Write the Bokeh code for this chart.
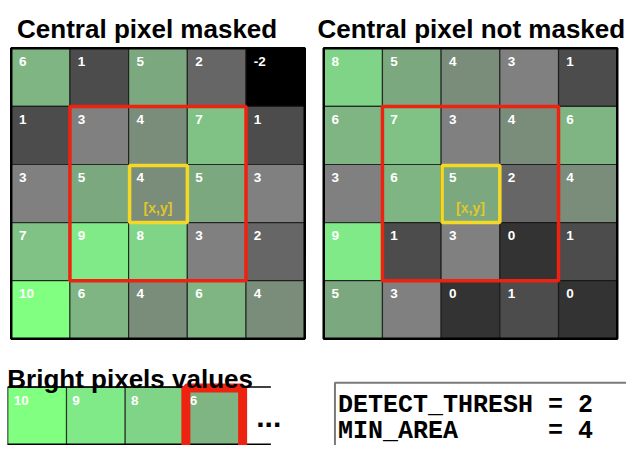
from bokeh.plotting import figure
from bokeh.models import Range1d
from bokeh.core.properties import value
from bokeh.embed import file_html
from bokeh.resources import INLINE

# ---------------- data ----------------
titles = ["Central pixel masked", "Central pixel not masked"]
masked_values = [[6, 1, 5, 2, -2],
                 [1, 3, 4, 7, 1],
                 [3, 5, 4, 5, 3],
                 [7, 9, 8, 3, 2],
                 [10, 6, 4, 6, 4]]
not_masked_values = [[8, 5, 4, 3, 1],
                     [6, 7, 3, 4, 6],
                     [3, 6, 5, 2, 4],
                     [9, 1, 3, 0, 1],
                     [5, 3, 0, 1, 0]]
center_row, center_col = 2, 2
center_label = "[x,y]"
bright_title = "Bright pixels values"
bright_values = [10, 9, 8, 6]
selected_index = 3
param_names = ["DETECT_THRESH", "MIN_AREA"]
param_values = [2, 4]

# ---------------- styles ----------------
palette = {10: "#80ff80", 9: "#80ea88", 8: "#80d488", 7: "#80c286",
           6: "#7eb582", 5: "#7ba87e", 4: "#7a8c7a", 3: "#808080",
           2: "#666666", 1: "#4c4c4c", 0: "#333333", -2: "#000000"}
RED = "#ee2211"
YELLOW = "#f5d826"
YELLOW_TXT = "#e2c62c"
SANS = value("Liberation Sans")
MONO = value("Liberation Mono")

# The drawing space is the reference's 642 x 461 pixel canvas, fitted into the page.
REF_W, REF_H = 642, 461
W, H = 626, 445
p = figure(width=W, height=H, output_backend="svg", toolbar_location=None,
           x_range=Range1d(0, REF_W), y_range=Range1d(REF_H, 0),
           x_axis_type=None, y_axis_type=None, min_border=0,
           background_fill_color="white", border_fill_color="white")
p.outline_line_color = None
p.grid.visible = False

CELL = 60.2


def draw_grid(values, left, top, title, title_x):
    n = len(values)
    L, R, T, B, C, tx, ty, tt = [], [], [], [], [], [], [], []
    for r, row in enumerate(values):
        for c, v in enumerate(row):
            l = left + c * CELL
            t = top + r * CELL
            L.append(l); R.append(l + CELL); T.append(t); B.append(t + CELL)
            C.append(palette[v])
            tx.append(l + 8); ty.append(t + 9); tt.append(str(v))
    p.quad(left=L, right=R, top=T, bottom=B, fill_color=C,
           line_color="#111111", line_width=1.2, line_alpha=0.75)
    p.text(x=tx, y=ty, text=tt, text_color="white", text_font=SANS,
           text_font_style="bold", text_font_size="13.5px",
           text_baseline="top", text_align="left")
    # outer border
    p.quad(left=[left], right=[left + n * CELL], top=[top], bottom=[top + n * CELL],
           fill_color=None, line_color="black", line_width=2.5)
    # neighbourhood (3x3 around centre)
    p.quad(left=[left + (center_col - 1) * CELL], right=[left + (center_col + 2) * CELL],
           top=[top + (center_row - 1) * CELL], bottom=[top + (center_row + 2) * CELL],
           fill_color=None, line_color=RED, line_width=3.5)
    # centre pixel
    cl = left + center_col * CELL
    ct = top + center_row * CELL
    p.quad(left=[cl + 1], right=[cl + CELL], top=[ct + 1], bottom=[ct + CELL],
           fill_color=None, line_color=YELLOW, line_width=3.5)
    p.text(x=[cl + CELL / 2], y=[ct + 45], text=[center_label], text_color=YELLOW_TXT,
           text_font=SANS, text_font_style="bold", text_font_size="14px",
           text_baseline="alphabetic", text_align="center")
    p.text(x=[title_x], y=[30], text=[title], text_color="black", text_font=SANS,
           text_font_style="bold", text_font_size="26px",
           text_baseline="alphabetic", text_align="left")


draw_grid(masked_values, 11, 49.5, titles[0], 17)
draw_grid(not_masked_values, 331.5, 49.5, titles[1], 325)

# ---------------- bright pixel strip ----------------
bx, by = 7.5, 400.5
L = [bx + i * CELL for i in range(len(bright_values))]
p.quad(left=L, right=[l + CELL for l in L], top=[by] * len(L), bottom=[by + CELL] * len(L),
       fill_color=[palette[v] for v in bright_values], line_color="#111111",
       line_width=1.2, line_alpha=0.75)
p.text(x=[l + 6 for l in L], y=[by + 9] * len(L), text=[str(v) for v in bright_values],
       text_color="white", text_font=SANS, text_font_style="bold", text_font_size="13.5px",
       text_baseline="top", text_align="left")
strip_end = bx + len(bright_values) * CELL + 29
p.segment(x0=[bx, bx], y0=[by, by + CELL - 1], x1=[strip_end, strip_end],
          y1=[by, by + CELL - 1], line_color="black", line_width=1.5)
sl = L[selected_index]
p.quad(left=[sl + 2], right=[sl + CELL], top=[by + 1], bottom=[by + CELL + 5],
       fill_color=None, line_color=RED, line_width=9)
p.text(x=[sl + CELL + 14], y=[by + 31], text=["..."], text_color="black", text_font=SANS,
       text_font_style="bold", text_font_size="30px", text_baseline="alphabetic",
       text_align="left")
p.text(x=[7], y=[392], text=[bright_title], text_color="black", text_font=SANS,
       text_font_style="bold", text_font_size="26px", text_baseline="alphabetic",
       text_align="left")

# ---------------- parameter box ----------------
p.quad(left=[343], right=[REF_W + 20], top=[396], bottom=[REF_H + 20], fill_color="white",
       line_color="#7a7a7a", line_width=2)
width_col = max(len(n) for n in param_names) + 1
for i, (n, v) in enumerate(zip(param_names, param_values)):
    line = n + "\u00a0" * (width_col - len(n)) + "=\u00a0" + str(v)
    p.text(x=[346], y=[420 + 26 * i], text=[line],
           text_color="black", text_font=MONO, text_font_style="bold",
           text_font_size="25px", text_baseline="alphabetic", text_align="left")

open("out.html", "w").write(file_html(p, INLINE))
